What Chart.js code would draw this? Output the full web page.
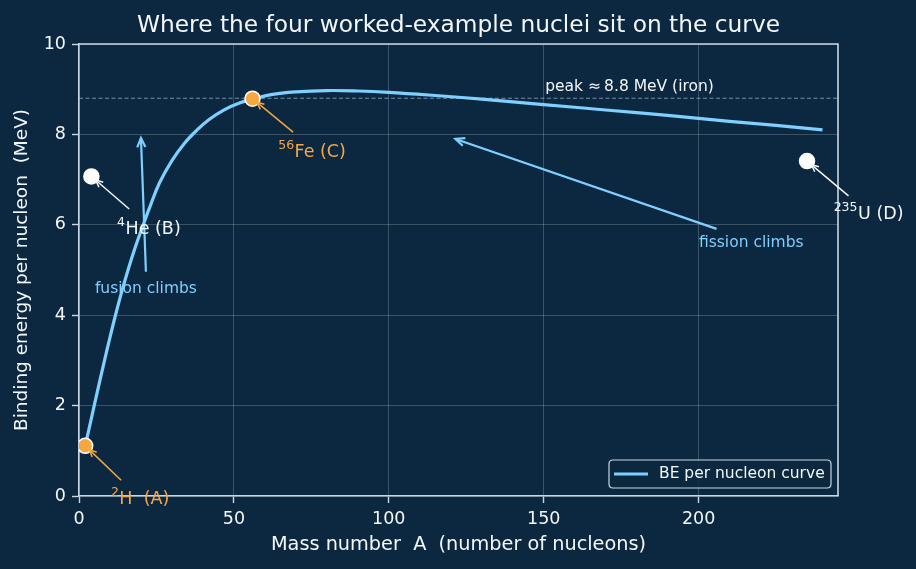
<!DOCTYPE html>
<html><head><meta charset="utf-8">
<script src="https://cdn.jsdelivr.net/npm/chart.js@4.4.1/dist/chart.umd.min.js"></script>
<style>html,body{margin:0;padding:0;background:#0c2840;}#wrap{width:916px;height:569px;}</style>
</head><body><div id="wrap"><canvas id="c" width="916" height="569"></canvas></div>
<script>
// ---- data ----
const curveA  = [2, 4, 6, 8, 10, 12, 14, 16, 18, 20, 23, 26, 30, 34, 38, 42, 47, 52, 56, 62, 70, 80, 90, 100, 115, 130, 150, 170, 190, 210, 225, 240];
const curveBE = [1.11, 1.72, 2.33, 2.93, 3.51, 4.06, 4.57, 5.04, 5.47, 5.86, 6.42, 6.93, 7.42, 7.80, 8.09, 8.33, 8.55, 8.70, 8.78, 8.88, 8.94, 8.97, 8.96, 8.93, 8.86, 8.78, 8.66, 8.54, 8.42, 8.29, 8.20, 8.10];

const nucleiA   = [2, 4, 56, 235];
const nucleiBE  = [1.11, 7.07, 8.79, 7.41];
const nucleiSup = ['2', '4', '56', '235'];
const nucleiSym = ['H  (A)', 'He (B)', 'Fe (C)', 'U (D)'];
const nucleiHot = [true, false, true, false];
const labelA    = [10.3, 12.3, 64.3, 243.6];
const labelBE   = [-0.18, 5.8, 7.5, 6.13];
const tailA     = [13.6, 16.2, 69.1, 248.4];
const tailBE    = [0.35, 6.35, 8.05, 6.64];

const climbText   = ['fusion climbs', 'fission climbs'];
const climbTextA  = [21.6, 217.0];
const climbTextBE = [4.49, 5.50];
const climbTailA  = [21.6, 205.8];
const climbTailBE = [4.96, 5.91];
const climbHeadA  = [20.0, 121.5];
const climbHeadBE = [7.92, 7.90];

const peakBE = 8.8;
const peakLabel = 'peak \u2248\u20098.8 MeV (iron)';
const peakLabelA = 150.5, peakLabelBE = 8.96;

const xTicks = [0, 50, 100, 150, 200];
const yTicks = [0, 2, 4, 6, 8, 10];

// ---- style ----
const BG = '#0c2840', CURVE = '#7fcfff', ORANGE = '#f5a742', WHITE = '#f4f7fa', SPINE = '#c9d6e3';
const FONT = "'DejaVu Sans', sans-serif";

function arrow(ctx, x1, y1, x2, y2, color, lw, headLen, shrink) {
  const ang = Math.atan2(y2 - y1, x2 - x1);
  x2 -= Math.cos(ang) * shrink; y2 -= Math.sin(ang) * shrink;
  ctx.save();
  ctx.strokeStyle = color; ctx.lineWidth = lw; ctx.lineCap = 'butt'; ctx.lineJoin = 'miter';
  ctx.beginPath(); ctx.moveTo(x1, y1); ctx.lineTo(x2, y2); ctx.stroke();
  const a1 = ang + Math.PI - 0.42, a2 = ang + Math.PI + 0.42;
  ctx.beginPath();
  ctx.moveTo(x2 + Math.cos(a1) * headLen, y2 + Math.sin(a1) * headLen);
  ctx.lineTo(x2, y2);
  ctx.lineTo(x2 + Math.cos(a2) * headLen, y2 + Math.sin(a2) * headLen);
  ctx.stroke();
  ctx.restore();
}

const decor = {
  id: 'decor',
  beforeDraw(chart) {
    const ctx = chart.ctx;
    ctx.save(); ctx.fillStyle = BG; ctx.fillRect(0, 0, chart.width, chart.height); ctx.restore();
  },
  beforeDatasetsDraw(chart) {
    const ctx = chart.ctx, ca = chart.chartArea, ys = chart.scales.y;
    const y = ys.getPixelForValue(peakBE);
    ctx.save();
    ctx.strokeStyle = 'rgba(175,205,230,0.7)'; ctx.lineWidth = 0.9; ctx.setLineDash([4, 2.5]);
    ctx.beginPath(); ctx.moveTo(ca.left, y); ctx.lineTo(ca.right, y); ctx.stroke();
    ctx.restore();
  },
  afterDatasetsDraw(chart) {
    const ctx = chart.ctx, xs = chart.scales.x, ys = chart.scales.y, ca = chart.chartArea;
    const px = v => xs.getPixelForValue(v), py = v => ys.getPixelForValue(v);
    ctx.save();
    ctx.strokeStyle = SPINE; ctx.lineWidth = 1.6;
    ctx.beginPath();
    ctx.moveTo(ca.left, ca.top); ctx.lineTo(ca.right, ca.top); ctx.lineTo(ca.right, ca.bottom);
    ctx.stroke();
    ctx.restore();
    ctx.save();
    ctx.fillStyle = WHITE; ctx.font = '15.5px ' + FONT; ctx.textAlign = 'left'; ctx.textBaseline = 'alphabetic';
    ctx.fillText(peakLabel, px(peakLabelA), py(peakLabelBE));
    ctx.restore();
    for (let i = 0; i < climbText.length; i++) {
      arrow(ctx, px(climbTailA[i]), py(climbTailBE[i]), px(climbHeadA[i]), py(climbHeadBE[i]), CURVE, 2.2, 10, 0);
      ctx.save();
      ctx.fillStyle = CURVE; ctx.font = '15.5px ' + FONT; ctx.textAlign = 'center'; ctx.textBaseline = 'alphabetic';
      ctx.fillText(climbText[i], px(climbTextA[i]), py(climbTextBE[i]));
      ctx.restore();
    }
    for (let i = 0; i < nucleiA.length; i++) {
      const col = nucleiHot[i] ? ORANGE : WHITE;
      arrow(ctx, px(tailA[i]), py(tailBE[i]), px(nucleiA[i]), py(nucleiBE[i]), col, 1.5, 8, 5.5);
      ctx.save();
      ctx.fillStyle = col; ctx.textAlign = 'left'; ctx.textBaseline = 'alphabetic';
      const x0 = px(labelA[i]), y0 = py(labelBE[i]);
      ctx.font = '12.5px ' + FONT;
      ctx.fillText(nucleiSup[i], x0, y0 - 8);
      const w = ctx.measureText(nucleiSup[i]).width;
      ctx.font = '17.5px ' + FONT;
      ctx.fillText(nucleiSym[i], x0 + w + 0.5, y0);
      ctx.restore();
    }
  },
  afterDraw(chart) {
    const ctx = chart.ctx;
    const lx = 609, ly = 460, lw = 222, lh = 28, r = 4;
    ctx.save();
    ctx.beginPath();
    ctx.moveTo(lx + r, ly); ctx.lineTo(lx + lw - r, ly); ctx.quadraticCurveTo(lx + lw, ly, lx + lw, ly + r);
    ctx.lineTo(lx + lw, ly + lh - r); ctx.quadraticCurveTo(lx + lw, ly + lh, lx + lw - r, ly + lh);
    ctx.lineTo(lx + r, ly + lh); ctx.quadraticCurveTo(lx, ly + lh, lx, ly + lh - r);
    ctx.lineTo(lx, ly + r); ctx.quadraticCurveTo(lx, ly, lx + r, ly);
    ctx.closePath();
    ctx.fillStyle = 'rgba(12,40,64,0.85)'; ctx.fill();
    ctx.strokeStyle = SPINE; ctx.lineWidth = 1.2; ctx.stroke();
    ctx.strokeStyle = CURVE; ctx.lineWidth = 3;
    ctx.beginPath(); ctx.moveTo(614, 474); ctx.lineTo(648, 474); ctx.stroke();
    ctx.fillStyle = WHITE; ctx.font = '15.5px ' + FONT; ctx.textAlign = 'left'; ctx.textBaseline = 'middle';
    ctx.fillText(chart.data.datasets[1].label, 659, 474);
    ctx.font = '23.3px ' + FONT; ctx.textAlign = 'center'; ctx.textBaseline = 'alphabetic';
    ctx.fillText('Where the four worked-example nuclei sit on the curve', (chart.chartArea.left + chart.chartArea.right) / 2, 32);
    ctx.restore();
  }
};

new Chart(document.getElementById('c'), {
  type: 'scatter',
  data: {
    datasets: [
      {
        label: 'worked-example nuclei',
        data: nucleiA.map((a, i) => ({ x: a, y: nucleiBE[i] })),
        backgroundColor: nucleiHot.map(h => h ? ORANGE : '#ffffff'),
        borderColor: '#ffffff',
        borderWidth: 1.5,
        pointRadius: 7.5,
        pointHoverRadius: 7.5
      },
      {
        label: 'BE per nucleon curve',
        data: curveA.map((a, i) => ({ x: a, y: curveBE[i] })),
        showLine: true,
        borderColor: CURVE,
        borderWidth: 3.2,
        pointRadius: 0,
        fill: false,
        tension: 0.4
      }
    ]
  },
  options: {
    responsive: false,
    animation: false,
    devicePixelRatio: 1,
    layout: { padding: { left: 0, right: 78, top: 44, bottom: 0 } },
    plugins: { legend: { display: false }, title: { display: false }, tooltip: { enabled: false } },
    scales: {
      x: {
        type: 'linear', min: 0, max: 245,
        afterBuildTicks: s => { s.ticks = xTicks.map(v => ({ value: v })); },
        afterFit: s => { s.height = 73; },
        ticks: { color: WHITE, font: { family: FONT, size: 17.5 }, padding: 6, maxRotation: 0 },
        grid: { color: 'rgba(255,255,255,0.2)', lineWidth: 1, tickLength: 7, tickColor: SPINE, tickWidth: 1.4 },
        border: { display: true, color: SPINE, width: 1.6 },
        title: { display: true, text: 'Mass number  A  (number of nucleons)', color: WHITE, font: { family: FONT, size: 19.3 }, padding: { top: 0, bottom: 12 } }
      },
      y: {
        type: 'linear', min: 0, max: 10,
        afterBuildTicks: s => { s.ticks = yTicks.map(v => ({ value: v })); },
        afterFit: s => { s.width = 79; },
        ticks: { color: WHITE, font: { family: FONT, size: 17.5 }, padding: 6 },
        grid: { color: 'rgba(255,255,255,0.2)', lineWidth: 1, tickLength: 7, tickColor: SPINE, tickWidth: 1.4 },
        border: { display: true, color: SPINE, width: 1.6 },
        title: { display: true, text: 'Binding energy per nucleon  (MeV)', color: WHITE, font: { family: FONT, size: 18.5 }, padding: { top: 11, bottom: 0 } }
      }
    }
  },
  plugins: [decor]
});
</script>
</body></html>
